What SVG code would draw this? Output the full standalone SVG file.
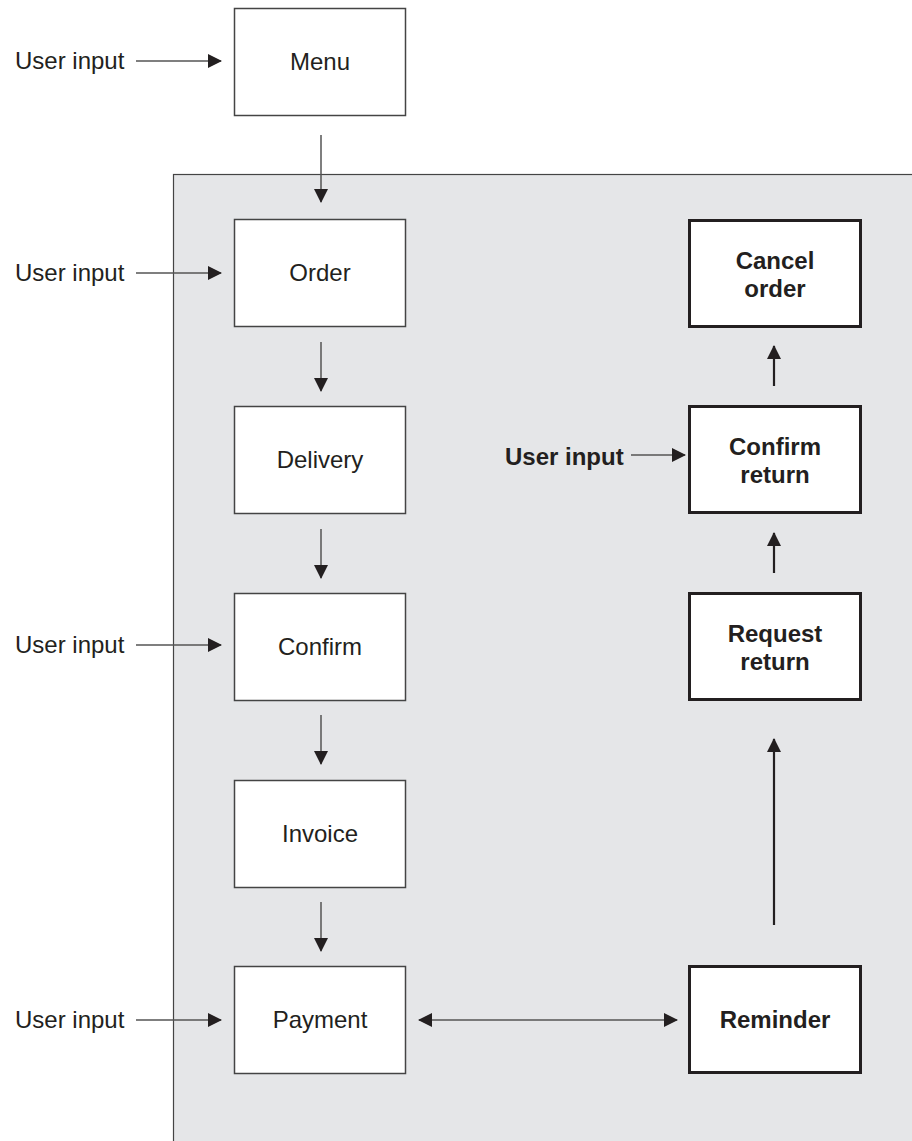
<svg xmlns="http://www.w3.org/2000/svg" width="912" height="1141" viewBox="0 0 912 1141">
<style>
text{font-family:"Liberation Sans",Arial,sans-serif;font-size:24px;fill:#231f20}
.c{text-anchor:middle}
.b{font-weight:bold}
.box{fill:#fff;stroke:#444;stroke-width:1.5}
.bbox{fill:#fff;stroke:#231f20;stroke-width:3}
.ln{stroke:#555;stroke-width:1.5;fill:none}
.lb{stroke:#231f20;stroke-width:2.2;fill:none}
</style>
<defs>
<marker id="ah" viewBox="0 0 14 14" refX="13" refY="7" markerUnits="userSpaceOnUse" markerWidth="14" markerHeight="14" orient="auto-start-reverse">
<path d="M0,0 L14,7 L0,14 Z" fill="#231f20"/>
</marker>
</defs>
<rect id="panel" x="173.5" y="174.5" width="740" height="970" fill="#e5e6e8" stroke="#444" stroke-width="1.2"/>
<g id="menu"><rect class="box" x="234.5" y="8.5" width="171" height="107"/><text class="c" x="320" y="70">Menu</text></g>
<g id="order"><rect class="box" x="234.5" y="219.5" width="171" height="107"/><text class="c" x="320" y="281">Order</text></g>
<g id="delivery"><rect class="box" x="234.5" y="406.5" width="171" height="107"/><text class="c" x="320" y="468">Delivery</text></g>
<g id="confirm"><rect class="box" x="234.5" y="593.5" width="171" height="107"/><text class="c" x="320" y="655">Confirm</text></g>
<g id="invoice"><rect class="box" x="234.5" y="780.5" width="171" height="107"/><text class="c" x="320" y="842">Invoice</text></g>
<g id="payment"><rect class="box" x="234.5" y="966.5" width="171" height="107"/><text class="c" x="320" y="1028">Payment</text></g>
<g id="cancel-order"><rect class="bbox" x="689.5" y="220.5" width="171" height="106"/><text class="c b" x="775" y="269">Cancel</text><text class="c b" x="775" y="297">order</text></g>
<g id="confirm-return"><rect class="bbox" x="689.5" y="406.5" width="171" height="106"/><text class="c b" x="775" y="455">Confirm</text><text class="c b" x="775" y="483">return</text></g>
<g id="request-return"><rect class="bbox" x="689.5" y="593.5" width="171" height="106"/><text class="c b" x="775" y="642">Request</text><text class="c b" x="775" y="670">return</text></g>
<g id="reminder"><rect class="bbox" x="689.5" y="966.5" width="171" height="106"/><text class="c b" x="775" y="1028">Reminder</text></g>
<g id="inputs">
<text x="15" y="69">User input</text>
<text x="15" y="281">User input</text>
<text x="15" y="653">User input</text>
<text x="15" y="1028">User input</text>
<text class="b" x="505" y="465">User input</text>
</g>
<g id="connectors">
<line class="ln" x1="136" y1="61" x2="221" y2="61" marker-end="url(#ah)"/>
<line class="ln" x1="136" y1="273" x2="221" y2="273" marker-end="url(#ah)"/>
<line class="ln" x1="136" y1="645" x2="221" y2="645" marker-end="url(#ah)"/>
<line class="ln" x1="136" y1="1020" x2="221" y2="1020" marker-end="url(#ah)"/>
<line class="ln" x1="631" y1="455" x2="685" y2="455" marker-end="url(#ah)"/>
<line class="ln" x1="321" y1="135" x2="321" y2="202" marker-end="url(#ah)"/>
<line class="ln" x1="321" y1="342" x2="321" y2="391" marker-end="url(#ah)"/>
<line class="ln" x1="321" y1="529" x2="321" y2="578" marker-end="url(#ah)"/>
<line class="ln" x1="321" y1="715" x2="321" y2="764" marker-end="url(#ah)"/>
<line class="ln" x1="321" y1="902" x2="321" y2="951" marker-end="url(#ah)"/>
<line class="ln" x1="419" y1="1020" x2="677" y2="1020" marker-start="url(#ah)" marker-end="url(#ah)"/>
<line class="lb" x1="774" y1="925" x2="774" y2="739" marker-end="url(#ah)"/>
<line class="lb" x1="774" y1="573" x2="774" y2="533" marker-end="url(#ah)"/>
<line class="lb" x1="774" y1="386" x2="774" y2="346" marker-end="url(#ah)"/>
</g>
</svg>
